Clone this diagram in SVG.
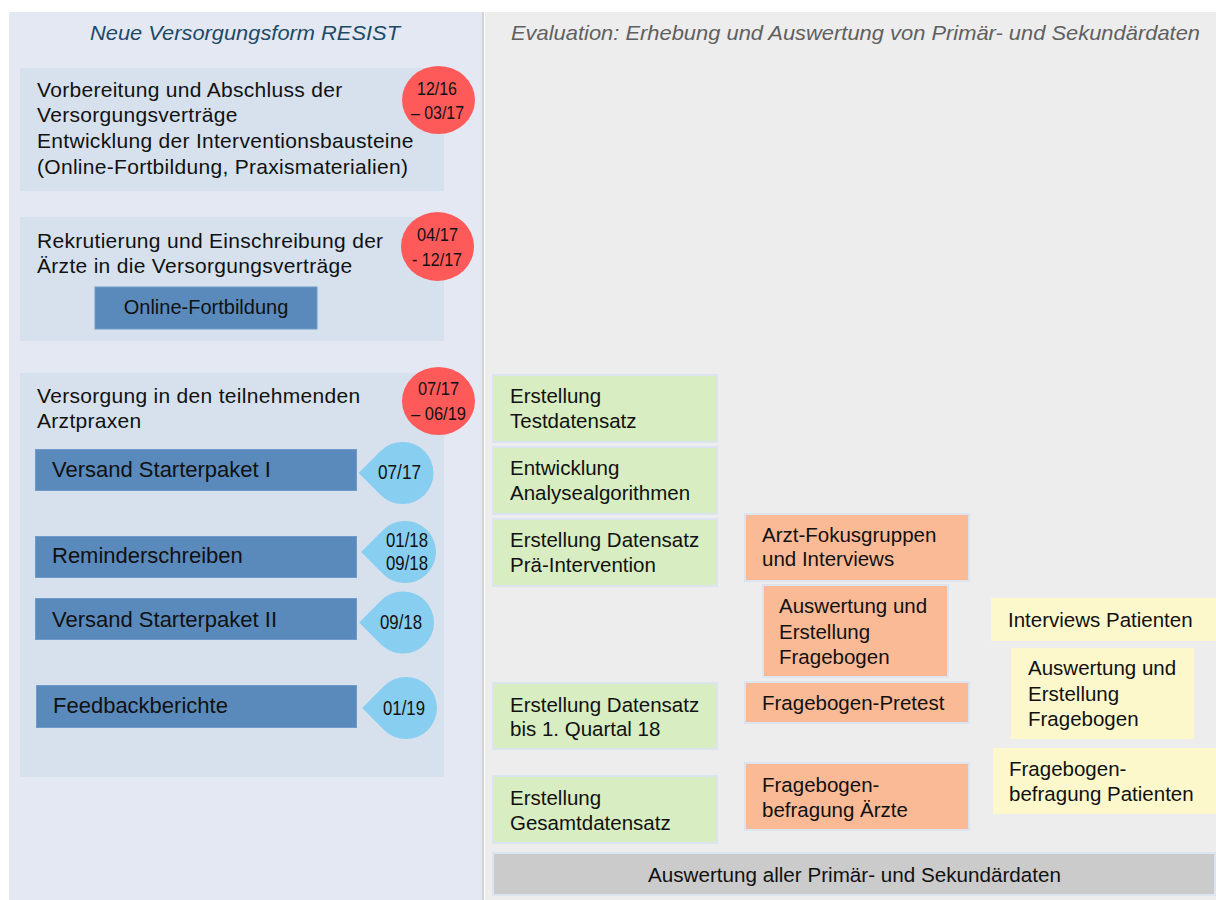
<svg xmlns="http://www.w3.org/2000/svg" width="1216" height="900" viewBox="0 0 1216 900">
  <style>
    .txt { font-family: "Liberation Sans", Arial, sans-serif; fill: #111; }
    .lt { font-size: 21px; letter-spacing: 0.3px; }
    .rt { font-size: 20.5px; }
    .bt { font-size: 22px; }
    .nar { font-family: "Liberation Sans Narrow", "Liberation Sans", Arial, sans-serif; fill: #111; }
    .phase { fill: #d6e1ed; }
    .date { fill: #ff5a5a; }
    .bar { fill: #5a8abb; stroke: #6f9acb; stroke-width: 1; }
    .drop { fill: #88cef0; }
    .green { fill: #d8edc2; stroke: #dbe4ef; stroke-width: 2; }
    .orange { fill: #fbba96; stroke: #dbe4ef; stroke-width: 2; }
    .yellow { fill: #fcf8cc; }
    .grey { fill: #cbcbcb; stroke: #dbe4ef; stroke-width: 2; }
  </style>

  <!-- background panels -->
  <rect x="0" y="0" width="1216" height="900" fill="#ffffff"/>
  <rect x="9" y="12" width="473" height="888" fill="#e3e8f3"/>
  <rect x="485" y="12" width="731" height="888" fill="#ededed"/>
  <line x1="483" y1="12" x2="483" y2="900" stroke="#c4c4c4" stroke-width="1.5"/>

  <!-- column headings -->
  <text x="90" y="40" font-family="Liberation Sans, Arial, sans-serif" font-size="21" font-style="italic" fill="#1d4a66" textLength="310" lengthAdjust="spacingAndGlyphs">Neue Versorgungsform RESIST</text>
  <text x="511" y="40" font-family="Liberation Sans, Arial, sans-serif" font-size="21" font-style="italic" fill="#606060" textLength="689" lengthAdjust="spacingAndGlyphs">Evaluation: Erhebung und Auswertung von Primär- und Sekundärdaten</text>

  <!-- phase 1 -->
  <g id="phase-vorbereitung">
    <rect class="phase" x="20" y="68" width="424" height="123"/>
    <text class="txt lt" x="37" y="97">Vorbereitung und Abschluss der</text>
    <text class="txt lt" x="37" y="122">Versorgungsverträge</text>
    <text class="txt lt" x="37" y="148">Entwicklung der Interventionsbausteine</text>
    <text class="txt lt" x="37" y="174">(Online-Fortbildung, Praxismaterialien)</text>
  </g>
  <g id="date-phase1">
    <ellipse class="date" cx="438.5" cy="100" rx="36.5" ry="34"/>
    <text class="nar" x="437" y="95" font-size="19" text-anchor="middle" textLength="40" lengthAdjust="spacingAndGlyphs">12/16</text>
    <text class="nar" x="437.5" y="119" font-size="19" text-anchor="middle" textLength="53" lengthAdjust="spacingAndGlyphs">– 03/17</text>
  </g>

  <!-- phase 2 -->
  <g id="phase-rekrutierung">
    <rect class="phase" x="20" y="217" width="424" height="124"/>
    <text class="txt lt" x="37" y="248">Rekrutierung und Einschreibung der</text>
    <text class="txt lt" x="37" y="273">Ärzte in die Versorgungsverträge</text>
  </g>
  <g id="online-fortbildung">
    <rect class="bar" x="95" y="287" width="222" height="42"/>
    <text class="txt" x="206" y="314" font-size="20" text-anchor="middle">Online-Fortbildung</text>
  </g>
  <g id="date-phase2">
    <ellipse class="date" cx="437.5" cy="246.5" rx="36.5" ry="34.5"/>
    <text class="nar" x="437.5" y="241" font-size="19" text-anchor="middle" textLength="41" lengthAdjust="spacingAndGlyphs">04/17</text>
    <text class="nar" x="437" y="266" font-size="19" text-anchor="middle" textLength="50" lengthAdjust="spacingAndGlyphs">- 12/17</text>
  </g>

  <!-- phase 3 -->
  <g id="phase-versorgung">
    <rect class="phase" x="20" y="373" width="424" height="404"/>
    <text class="txt lt" x="37" y="403">Versorgung in den teilnehmenden</text>
    <text class="txt lt" x="37" y="428">Arztpraxen</text>
  </g>
  <g id="date-phase3">
    <ellipse class="date" cx="438.5" cy="401" rx="36.5" ry="34"/>
    <text class="nar" x="438.5" y="395" font-size="19" text-anchor="middle" textLength="41" lengthAdjust="spacingAndGlyphs">07/17</text>
    <text class="nar" x="438.5" y="420" font-size="19" text-anchor="middle" textLength="55" lengthAdjust="spacingAndGlyphs">– 06/19</text>
  </g>

  <g id="starterpaket-1">
    <rect class="bar" x="35.5" y="449.5" width="321" height="41"/>
    <text class="txt bt" x="52" y="477">Versand Starterpaket I</text>
    <path class="drop" d="M358.66,473 L380.58,451.08 A31,31 0 1 1 380.58,494.92 Z"/>
    <text class="nar" x="399.5" y="479" font-size="21" text-anchor="middle" textLength="43" lengthAdjust="spacingAndGlyphs">07/17</text>
  </g>

  <g id="reminderschreiben">
    <rect class="bar" x="35.5" y="536.5" width="321" height="41"/>
    <text class="txt bt" x="52" y="563">Reminderschreiben</text>
    <path class="drop" d="M361.16,552 L383.08,530.08 A31,31 0 1 1 383.08,573.92 Z"/>
    <text class="nar" x="407" y="547" font-size="21" text-anchor="middle" textLength="42" lengthAdjust="spacingAndGlyphs">01/18</text>
    <text class="nar" x="407" y="570" font-size="21" text-anchor="middle" textLength="42" lengthAdjust="spacingAndGlyphs">09/18</text>
  </g>

  <g id="starterpaket-2">
    <rect class="bar" x="35.5" y="598.5" width="321" height="41"/>
    <text class="txt bt" x="52" y="627">Versand Starterpaket II</text>
    <path class="drop" d="M359.16,622.5 L381.08,600.58 A31,31 0 1 1 381.08,644.42 Z"/>
    <text class="nar" x="401" y="629" font-size="21" text-anchor="middle" textLength="42" lengthAdjust="spacingAndGlyphs">09/18</text>
  </g>

  <g id="feedbackberichte">
    <rect class="bar" x="36.5" y="685.5" width="320" height="42"/>
    <text class="txt bt" x="53" y="713">Feedbackberichte</text>
    <path class="drop" d="M362.16,708 L384.08,686.08 A31,31 0 1 1 384.08,729.92 Z"/>
    <text class="nar" x="404" y="715" font-size="21" text-anchor="middle" textLength="42" lengthAdjust="spacingAndGlyphs">01/19</text>
  </g>

  <!-- evaluation: secondary data -->
  <g id="testdatensatz">
    <rect class="green" x="493" y="375" width="224" height="67"/>
    <text class="txt rt" x="510" y="403">Erstellung</text>
    <text class="txt rt" x="510" y="428">Testdatensatz</text>
  </g>
  <g id="analysealgorithmen">
    <rect class="green" x="493" y="447" width="224" height="67"/>
    <text class="txt rt" x="510" y="475">Entwicklung</text>
    <text class="txt rt" x="510" y="500">Analysealgorithmen</text>
  </g>
  <g id="datensatz-prae">
    <rect class="green" x="493" y="519" width="224" height="67"/>
    <text class="txt rt" x="510" y="547">Erstellung Datensatz</text>
    <text class="txt rt" x="510" y="572">Prä-Intervention</text>
  </g>
  <g id="datensatz-q1-18">
    <rect class="green" x="493" y="683" width="224" height="66"/>
    <text class="txt rt" x="510" y="712">Erstellung Datensatz</text>
    <text class="txt rt" x="510" y="736">bis 1. Quartal 18</text>
  </g>
  <g id="gesamtdatensatz">
    <rect class="green" x="493" y="776" width="224" height="67"/>
    <text class="txt rt" x="510" y="805">Erstellung</text>
    <text class="txt rt" x="510" y="830">Gesamtdatensatz</text>
  </g>

  <!-- evaluation: physicians -->
  <g id="arzt-fokusgruppen">
    <rect class="orange" x="745" y="514" width="224" height="67"/>
    <text class="txt rt" x="762" y="542">Arzt-Fokusgruppen</text>
    <text class="txt rt" x="762" y="566">und Interviews</text>
  </g>
  <g id="auswertung-aerzte">
    <rect class="orange" x="763" y="585" width="185" height="92"/>
    <text class="txt rt" x="779" y="613">Auswertung und</text>
    <text class="txt rt" x="779" y="639">Erstellung</text>
    <text class="txt rt" x="779" y="664">Fragebogen</text>
  </g>
  <g id="fragebogen-pretest">
    <rect class="orange" x="745" y="682" width="224" height="41"/>
    <text class="txt rt" x="762" y="710">Fragebogen-Pretest</text>
  </g>
  <g id="befragung-aerzte">
    <rect class="orange" x="745" y="763" width="224" height="67"/>
    <text class="txt rt" x="762" y="792">Fragebogen-</text>
    <text class="txt rt" x="762" y="817">befragung Ärzte</text>
  </g>

  <!-- evaluation: patients -->
  <g id="interviews-patienten">
    <rect class="yellow" x="991" y="598" width="225" height="43"/>
    <text class="txt rt" x="1008" y="627">Interviews Patienten</text>
  </g>
  <g id="auswertung-patienten">
    <rect class="yellow" x="1011" y="648" width="183" height="91"/>
    <text class="txt rt" x="1028" y="675">Auswertung und</text>
    <text class="txt rt" x="1028" y="701">Erstellung</text>
    <text class="txt rt" x="1028" y="726">Fragebogen</text>
  </g>
  <g id="befragung-patienten">
    <rect class="yellow" x="993" y="748" width="223" height="66"/>
    <text class="txt rt" x="1009" y="776">Fragebogen-</text>
    <text class="txt rt" x="1009" y="801">befragung Patienten</text>
  </g>

  <!-- final analysis -->
  <g id="auswertung-gesamt">
    <rect class="grey" x="493" y="853" width="722" height="42"/>
    <text class="txt" x="854.5" y="882" font-size="20.5" text-anchor="middle" textLength="413" lengthAdjust="spacingAndGlyphs">Auswertung aller Primär- und Sekundärdaten</text>
  </g>

  <g id="connectors"/>
</svg>
